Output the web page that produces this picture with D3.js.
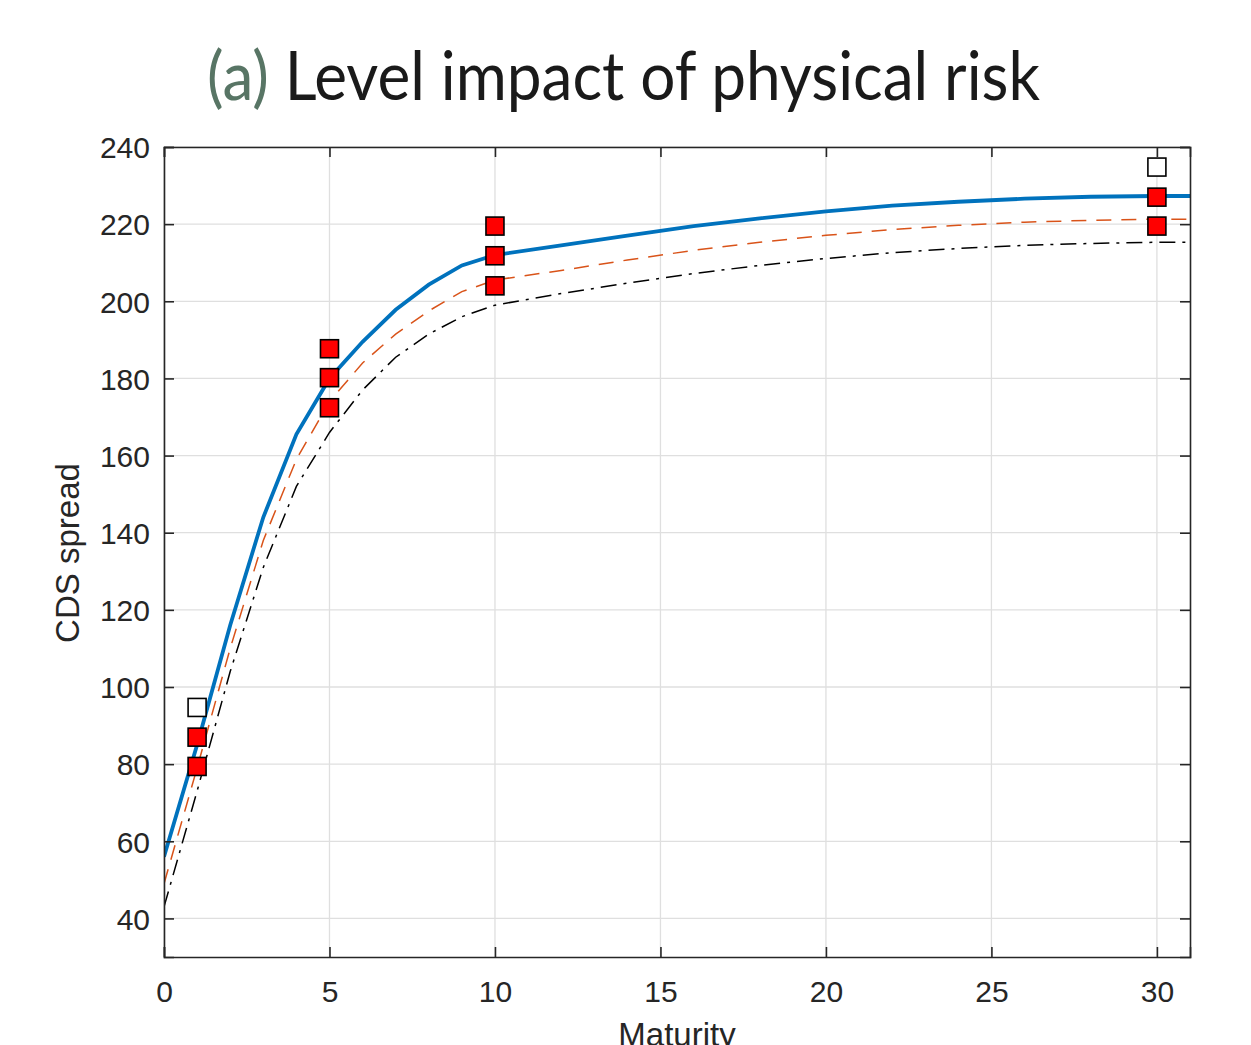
<!DOCTYPE html>
<html><head><meta charset="utf-8">
<script src="https://cdn.jsdelivr.net/npm/d3@7"></script>
<style>body{margin:0;background:#fff;}svg{display:block;}</style>
</head><body>
<script>
// Model curves (maturity in years)
const maturities = [0,1,2,3,4,5,6,7,8,9,10,12,14,16,18,20,22,24,26,28,30,31];
const blueCurve  = [56,85,116,144,165.5,180,189.5,197.8,204.3,209.3,212,214.5,217,219.5,221.5,223.3,224.8,225.8,226.6,227.1,227.3,227.3];
const orangeCurve= [49,79,110,138,159,174,184,191.5,197.5,202.5,205.5,208,210.7,213.2,215.3,217.1,218.6,219.7,220.5,221,221.3,221.3];
const blackCurve = [43,73,104,131,152,166,177,185.5,191.5,196,199,202,204.7,207.2,209.3,211.1,212.6,213.7,214.5,215,215.3,215.3];
// Observed markers
const obsMaturity = [1,1,1,5,5,5,10,10,10,30,30,30];
const obsValue    = [94.7,87,79.4,187.7,180.2,172.4,219.5,211.8,204,234.8,227,219.5];
const obsFilled   = [false,true,true,true,true,true,true,true,true,false,true,true];
const xTicks = [0,5,10,15,20,25,30];
const yTicks = [40,60,80,100,120,140,160,180,200,220,240];

const W=1251,H=1045;
const m={l:164,r:1190,t:147,b:957};
const svg=d3.select("body").append("svg").attr("width",W).attr("height",H);
const x=d3.scaleLinear().domain([0,31]).range([m.l,m.r]);
const y=d3.scaleLinear().domain([30,240]).range([m.b,m.t]);
const axisCol="#262626";
const font="'Liberation Sans',Arial,sans-serif";

// grid
svg.append("g").selectAll("line").data(xTicks).join("line")
  .attr("x1",d=>x(d)).attr("x2",d=>x(d)).attr("y1",m.t).attr("y2",m.b)
  .attr("stroke","#dfdfdf").attr("stroke-width",1.3);
svg.append("g").selectAll("line").data(yTicks).join("line")
  .attr("y1",d=>y(d)).attr("y2",d=>y(d)).attr("x1",m.l).attr("x2",m.r)
  .attr("stroke","#dfdfdf").attr("stroke-width",1.3);

// curves
svg.append("clipPath").attr("id","c").append("rect")
  .attr("x",m.l).attr("y",m.t).attr("width",m.r-m.l).attr("height",m.b-m.t);
const line=d3.line().x((d,i)=>x(maturities[i])).y(d=>y(d));
const g=svg.append("g").attr("clip-path","url(#c)");
g.append("path").attr("d",line(blackCurve)).attr("fill","none").attr("stroke","#000")
  .attr("stroke-width",1.5).attr("stroke-dasharray","16,7,3,7");
g.append("path").attr("d",line(orangeCurve)).attr("fill","none").attr("stroke","#D95319")
  .attr("stroke-width",1.5).attr("stroke-dasharray","15,10");
g.append("path").attr("d",line(blueCurve)).attr("fill","none").attr("stroke","#0072BD")
  .attr("stroke-width",3.8);

// axes
const xa=d3.axisBottom(x).tickValues(xTicks).tickSize(-10).tickPadding(24);
const ya=d3.axisLeft(y).tickValues(yTicks).tickSize(-10).tickPadding(14);
const gx=svg.append("g").attr("transform",`translate(0,${m.b})`).call(xa);
const gy=svg.append("g").attr("transform",`translate(${m.l},0)`).call(ya);
const gxt=svg.append("g").attr("transform",`translate(0,${m.t})`).call(d3.axisTop(x).tickValues(xTicks).tickSize(-10).tickFormat(""));
const gyr=svg.append("g").attr("transform",`translate(${m.r},0)`).call(d3.axisRight(y).tickValues(yTicks).tickSize(-10).tickFormat(""));
[gx,gy,gxt,gyr].forEach(a=>{
  a.selectAll("path").attr("stroke",axisCol).attr("stroke-width",1.6);
  a.selectAll("line").attr("stroke",axisCol).attr("stroke-width",1.6);
  a.selectAll("text").attr("fill",axisCol).style("font-family",font).style("font-size","30px");
});
gy.selectAll("text").attr("dy","0.36em");

// markers
const sz=18;
svg.append("g").selectAll("rect").data(obsValue).join("rect")
  .attr("x",(d,i)=>x(obsMaturity[i])-sz/2).attr("y",d=>y(d)-sz/2)
  .attr("width",sz).attr("height",sz)
  .attr("fill",(d,i)=>obsFilled[i]?"#ff0000":"#ffffff")
  .attr("stroke","#000").attr("stroke-width",1.6);

// labels
svg.append("text").attr("transform",`translate(79,${553}) rotate(-90)`)
  .attr("text-anchor","middle").attr("fill",axisCol)
  .style("font-family",font).style("font-size","33px").text("CDS spread");
svg.append("text").attr("x",677).attr("y",1046).attr("text-anchor","middle").attr("fill",axisCol)
  .style("font-family",font).style("font-size","33px").text("Maturity");

// title
const t=svg.append("text").attr("x",207).attr("y",100)
  .attr("textLength",833).attr("lengthAdjust","spacingAndGlyphs")
  .style("font-family","Lato,'Open Sans',sans-serif").style("font-size","68px").style("font-weight","400");
t.append("tspan").attr("fill","#587565").text("(a)");
t.append("tspan").attr("fill","#1a1a1a").text(" Level impact of physical risk");
</script>
</body></html>
